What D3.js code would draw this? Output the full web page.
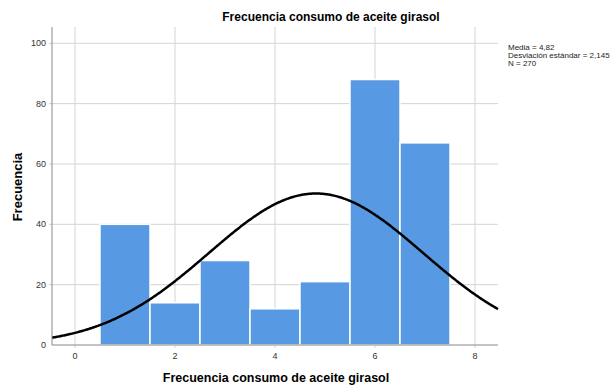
<!DOCTYPE html>
<html>
<head>
<meta charset="utf-8">
<script src="https://cdn.jsdelivr.net/npm/d3@7"></script>
<style>
  body { margin: 0; background: #fff; }
  svg { font-family: Arial, "Liberation Sans", sans-serif; }
</style>
</head>
<body>
<div id="chart"></div>
<script>
// Données
const categories = [1, 2, 3, 4, 5, 6, 7];
const frecuencias = [40, 14, 28, 12, 21, 88, 67];
const xTicks = [0, 2, 4, 6, 8];
const yTicks = [0, 20, 40, 60, 80, 100];
const stats = ["Media = 4,82", "Desviación estándar = 2,145", "N = 270"];
const media = 4.82, desviacion = 2.145, n = 270;

const width = 614, height = 385;
const margin = { top: 27, right: 116, bottom: 40, left: 52 };

const svg = d3.select("#chart").append("svg")
  .attr("width", width)
  .attr("height", height);

const x = d3.scaleLinear().domain([-0.46, 8.46]).range([margin.left, width - margin.right]);
const y = d3.scaleLinear().domain([0, 105.4]).range([height - margin.bottom, margin.top]);

// grille
svg.append("g").selectAll("line.v").data(xTicks).enter().append("line")
  .attr("x1", d => x(d)).attr("x2", d => x(d))
  .attr("y1", y.range()[1]).attr("y2", y(0) + 3)
  .attr("stroke", "#d4d4d4").attr("stroke-width", 1);
svg.append("g").selectAll("line.h").data(yTicks.filter(d => d > 0)).enter().append("line")
  .attr("x1", x.range()[0] - 3).attr("x2", x.range()[1])
  .attr("y1", d => y(d)).attr("y2", d => y(d))
  .attr("stroke", "#d4d4d4").attr("stroke-width", 1);

// barres
svg.append("g").selectAll("rect").data(categories).enter().append("rect")
  .attr("x", d => x(d - 0.5))
  .attr("y", (d, i) => y(frecuencias[i]))
  .attr("width", x(1) - x(0))
  .attr("height", (d, i) => y(0) - y(frecuencias[i]))
  .attr("fill", "#5899e3")
  .attr("stroke", "#fff")
  .attr("stroke-width", 1.5);

// courbe normale
const pts = d3.range(x.domain()[0], x.domain()[1] + 0.001, 0.02).map(v => {
  const z = (v - media) / desviacion;
  return [v, n / (desviacion * Math.sqrt(2 * Math.PI)) * Math.exp(-0.5 * z * z)];
});
svg.append("path")
  .datum(pts)
  .attr("d", d3.line().x(d => x(d[0])).y(d => y(d[1])))
  .attr("fill", "none")
  .attr("stroke", "#000")
  .attr("stroke-width", 2.5);

// axes
svg.append("line")
  .attr("x1", x.range()[0]).attr("x2", x.range()[0])
  .attr("y1", y.range()[1]).attr("y2", y(0))
  .attr("stroke", "#888");
svg.append("line")
  .attr("x1", x.range()[0]).attr("x2", x.range()[1])
  .attr("y1", y(0)).attr("y2", y(0))
  .attr("stroke", "#888");

svg.append("g").selectAll("text").data(yTicks).enter().append("text")
  .attr("x", x.range()[0] - 6)
  .attr("y", d => y(d) + 3)
  .attr("text-anchor", "end")
  .attr("font-size", 9)
  .attr("fill", "#333")
  .text(d => d);
svg.append("g").selectAll("text").data(xTicks).enter().append("text")
  .attr("x", d => x(d))
  .attr("y", y(0) + 14)
  .attr("text-anchor", "middle")
  .attr("font-size", 9)
  .attr("fill", "#333")
  .text(d => d);

// titres
svg.append("text")
  .attr("x", 331).attr("y", 21)
  .attr("text-anchor", "middle")
  .attr("font-size", 12).attr("font-weight", "bold")
  .text("Frecuencia consumo de aceite girasol");
svg.append("text")
  .attr("x", 276).attr("y", 382)
  .attr("text-anchor", "middle")
  .attr("font-size", 12.5).attr("font-weight", "bold")
  .text("Frecuencia consumo de aceite girasol");
svg.append("text")
  .attr("transform", "translate(22,187) rotate(-90)")
  .attr("text-anchor", "middle")
  .attr("font-size", 13).attr("font-weight", "bold")
  .text("Frecuencia");

// statistiques
svg.append("g").selectAll("text").data(stats).enter().append("text")
  .attr("x", 508)
  .attr("y", (d, i) => 50 + i * 8)
  .attr("font-size", 8)
  .attr("fill", "#222")
  .text(d => d);
</script>
</body>
</html>
